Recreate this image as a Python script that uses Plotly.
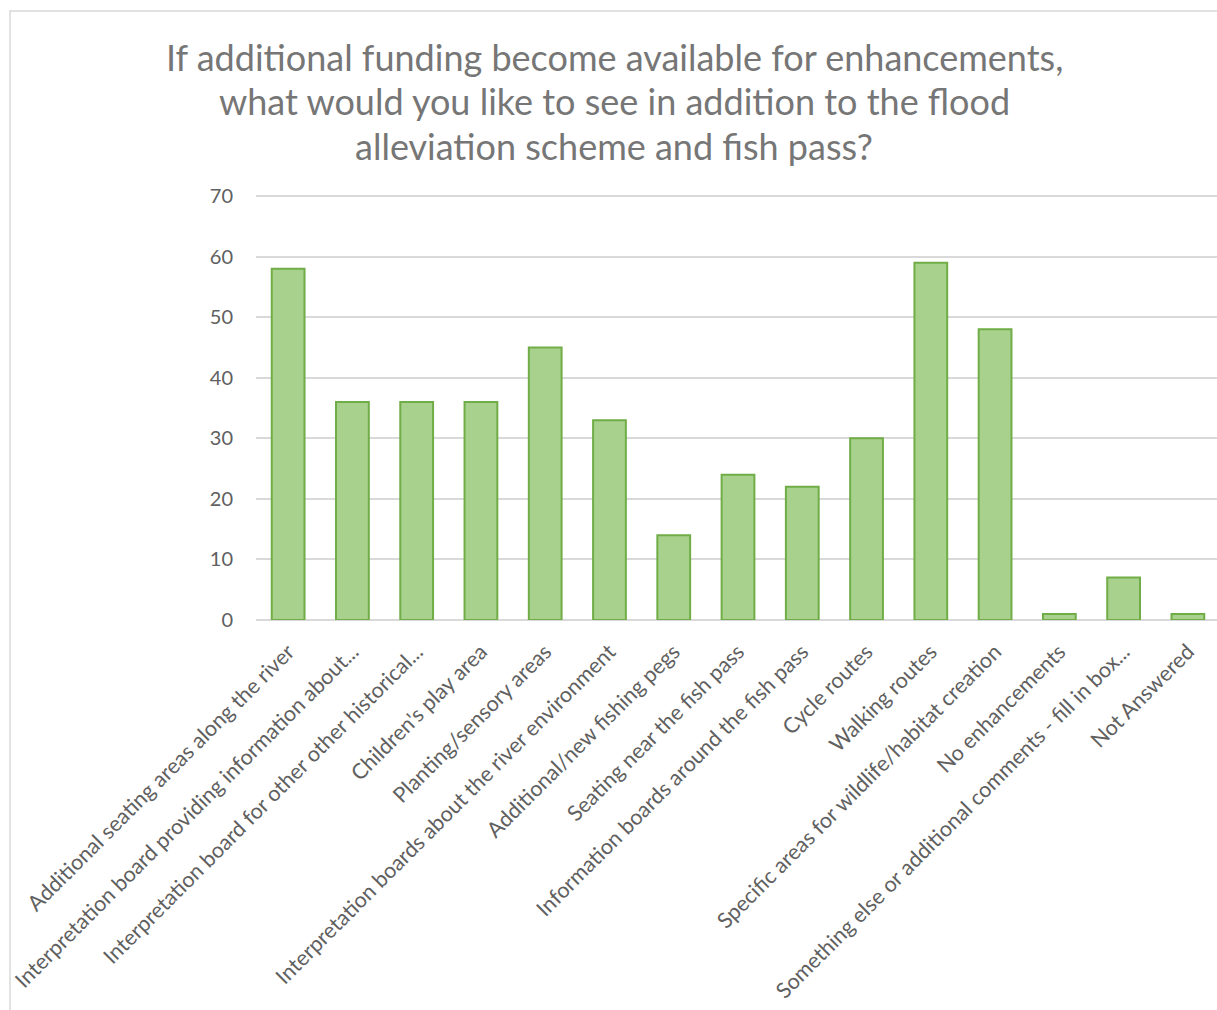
import plotly.graph_objects as go

categories = [
    "Additional seating areas along the river",
    "Interpretation board providing information about...",
    "Interpretation board for other other historical...",
    "Children's play area",
    "Planting/sensory areas",
    "Interpretation boards about the river environment",
    "Additional/new fishing pegs",
    "Seating near the fish pass",
    "Information boards around the fish pass",
    "Cycle routes",
    "Walking routes",
    "Specific areas for wildlife/habitat creation",
    "No enhancements",
    "Something else or additional comments - fill in box...",
    "Not Answered",
]
values = [58, 36, 36, 36, 45, 33, 14, 24, 22, 30, 59, 48, 1, 7, 1]
y_ticks = [0, 10, 20, 30, 40, 50, 60, 70]

title_lines = [
    "If additional funding become available for enhancements,",
    "what would you like to see in addition to the flood",
    "alleviation scheme and fish pass?",
]

W, H = 1217, 1010
L, R, T, B = 256, 1217, 195, 620
YMAX = 70.17


def px(x):
    return (x - L) / (R - L)


def py(y):
    return (B - y) / (B - T)


fig = go.Figure(go.Bar(
    x=list(range(len(categories))),
    y=values,
    width=0.51,
    marker=dict(color="#a9d18e", line=dict(color="#70ad47", width=2)),
    hoverinfo="x+y",
))

fig.update_layout(
    width=W, height=H,
    margin=dict(l=L, r=W - R, t=T, b=H - B, pad=0),
    paper_bgcolor="white", plot_bgcolor="white",
    font=dict(family="Lato, Open Sans, sans-serif", color="#595959"),
    showlegend=False,
    bargap=0.49,
)

fig.update_xaxes(
    tickmode="array",
    tickvals=list(range(len(categories))),
    ticktext=categories,
    tickangle=-45,
    tickfont=dict(size=21.5, color="#606060"),
    range=[-0.5, 14.453],
    showgrid=False,
    showline=False,
    zeroline=False,
    ticks="",
    ticklabelstandoff=14,
)
fig.update_yaxes(
    range=[0, YMAX],
    tickmode="array",
    tickvals=y_ticks,
    tickfont=dict(size=20, color="#606060"),
    showgrid=True,
    gridcolor="#d9d9d9",
    gridwidth=1.5,
    zeroline=True,
    zerolinecolor="#d9d9d9",
    zerolinewidth=1.5,
    showline=False,
    ticks="",
    ticklabelstandoff=22,
)

for line, yc in zip(title_lines, [57, 101, 146]):
    fig.add_annotation(
        text=line,
        xref="paper", yref="paper",
        x=px(614), y=py(yc),
        xanchor="center", yanchor="middle",
        showarrow=False,
        align="center",
        font=dict(size=36, color="#767676", family="Lato, Open Sans, sans-serif"),
    )

fig.add_shape(
    type="rect", xref="paper", yref="paper",
    x0=px(10), x1=px(1240), y0=py(11), y1=py(1030),
    line=dict(color="#d9d9d9", width=1.5),
    fillcolor="rgba(0,0,0,0)",
    layer="below",
)

fig.write_html("out.html", config={"displayModeBar": False},
               post_script="document.body.style.margin='0';")
